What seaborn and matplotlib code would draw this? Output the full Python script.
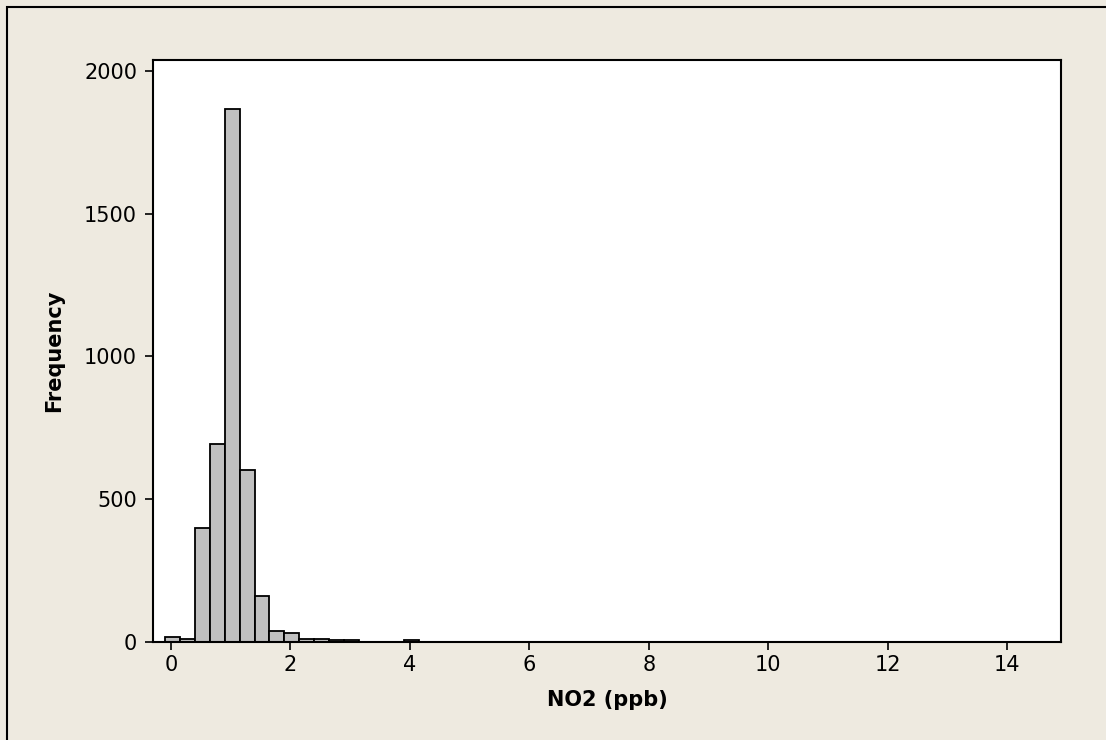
import matplotlib
matplotlib.use("Agg")
import matplotlib.pyplot as plt
from matplotlib.patches import Rectangle
import numpy as np
import pandas as pd
import seaborn as sns

# Histogram of hourly NO2 readings (ppb), bins of 0.25 ppb starting at -0.1
bin_start = -0.1
bin_width = 0.25
counts = [
    19, 11, 400, 694, 1866, 602, 161, 40, 33, 12,
    11, 6, 6, 0, 0, 0, 7, 0, 0, 0,
    0, 0, 0, 0, 0, 0, 0, 0, 0, 0,
    0, 0, 0, 0, 0, 0, 0, 0, 0, 0,
    0, 0, 0, 0, 0, 0, 0, 0, 0, 0,
    0, 0, 0, 0, 0, 0, 0, 0, 0, 1,
]
x_ticks = [0, 2, 4, 6, 8, 10, 12, 14]
y_ticks = [0, 500, 1000, 1500, 2000]
x_label = "NO2 (ppb)"
y_label = "Frequency"

n_bins = len(counts)
bin_end = bin_start + bin_width * n_bins
mids = bin_start + bin_width * (np.arange(n_bins) + 0.5)
df = pd.DataFrame({"no2": mids, "count": counts})

sns.set_theme(style="white")
plt.rcParams["font.family"] = ["DejaVu Sans"]

bg = "#EEEAE0"
fig = plt.figure(figsize=(11.06, 7.40), dpi=100, facecolor=bg)
ax = fig.add_axes([153 / 1106, 1 - 642 / 740, (1061 - 153) / 1106, (642 - 60) / 740])
ax.set_facecolor("white")

sns.histplot(data=df, x="no2", weights="count", binwidth=bin_width,
             binrange=(bin_start, bin_end), ax=ax,
             color="#C0C0C0", alpha=1.0, edgecolor="black", linewidth=1.3)

ax.set_xlim(-0.30, bin_end)
ax.set_ylim(0, 2038)
ax.set_xticks(x_ticks)
ax.set_yticks(y_ticks)
ax.tick_params(axis="both", direction="out", length=5.5, width=1.2,
               color="black", labelsize=15, labelcolor="black", pad=4,
               bottom=True, left=True)
ax.tick_params(axis="y", pad=6)

for s in ax.spines.values():
    s.set_visible(True)
    s.set_color("black")
    s.set_linewidth(1.5)

ax.set_xlabel(x_label, fontsize=15, fontweight="bold", color="black", labelpad=11)
ax.set_ylabel(y_label, fontsize=15, fontweight="bold", color="black", labelpad=14)

# outer frame of the graph window (only its top and left edges fall inside)
fig.add_artist(Rectangle((7 / 1106, -0.1), 1.2, 1.1 - 7 / 740,
                         transform=fig.transFigure, fill=False,
                         edgecolor="black", linewidth=1.5))

fig.savefig("out.png", dpi=100, facecolor=bg)
